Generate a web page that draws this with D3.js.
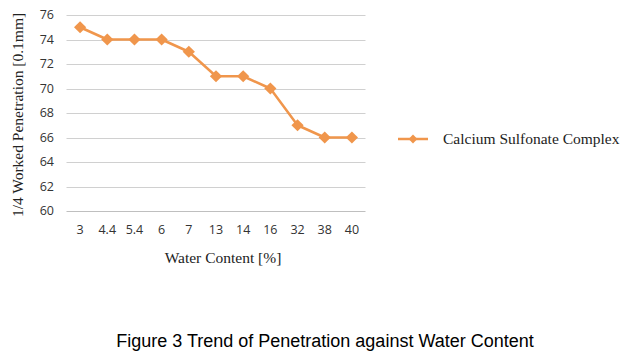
<!DOCTYPE html>
<html><head><meta charset="utf-8">
<script src="https://cdn.jsdelivr.net/npm/d3@7"></script>
<style>body{margin:0;background:#fff}svg{display:block}</style>
</head><body>
<svg id="c" width="638" height="358"></svg>
<script>
const categories = ["3","4.4","5.4","6","7","13","14","16","32","38","40"];
const values = [75,74,74,74,73,71,71,70,67,66,66];
const yTicks = [60,62,64,66,68,70,72,74,76];
const seriesName = "Calcium Sulfonate Complex";
const xTitle = "Water Content [%]";
const yTitle = "1/4 Worked Penetration [0.1mm]";
const caption = "Figure 3 Trend of Penetration against Water Content";

const svg = d3.select("#c");
const color = "#F0964C";
const x = d3.scaleBand().domain(categories).range([66.5, 365.5]);
const y = d3.scaleLinear().domain([60,76]).range([211, 15]);

// gridlines
svg.append("g").selectAll("line").data(yTicks).join("line")
  .attr("x1", 66.5).attr("x2", 365.5)
  .attr("y1", d => Math.round(y(d)) + 0.5).attr("y2", d => Math.round(y(d)) + 0.5)
  .attr("stroke", d => d === 60 ? "#bfbfbf" : "#d0d0d0").attr("stroke-width", 1);

// y labels
svg.append("g").selectAll("text").data(yTicks).join("text")
  .attr("x", 54).attr("y", d => y(d)).attr("dy", "0.35em")
  .attr("text-anchor", "end").attr("font-family", "Open Sans, Liberation Sans, sans-serif")
  .attr("font-size", 12.5).attr("fill", "#333").text(d => d);

// x labels
svg.append("g").selectAll("text").data(categories).join("text")
  .attr("x", d => x(d) + x.bandwidth()/2).attr("y", 234)
  .attr("text-anchor", "middle").attr("font-family", "Open Sans, Liberation Sans, sans-serif")
  .attr("font-size", 12.5).attr("fill", "#333").text(d => d);

// line
const line = d3.line().x((d,i) => x(categories[i]) + x.bandwidth()/2).y(d => y(d));
svg.append("path").datum(values).attr("d", line)
  .attr("fill", "none").attr("stroke", color).attr("stroke-width", 2.5).attr("stroke-linejoin", "round");

const diamond = d3.symbol().type(d3.symbolDiamond2 || d3.symbolDiamond).size(95);
svg.append("g").selectAll("path").data(values).join("path")
  .attr("transform", (d,i) => `translate(${x(categories[i]) + x.bandwidth()/2},${y(d)})`)
  .attr("d", diamond).attr("fill", color);

// axis titles
svg.append("text").attr("x", 223).attr("y", 263).attr("text-anchor", "middle")
  .attr("font-family", "Liberation Serif, serif").attr("font-size", 15.5).attr("fill", "#222").text(xTitle);
svg.append("text").attr("transform", "translate(23,115) rotate(-90)").attr("text-anchor", "middle")
  .attr("font-family", "Liberation Serif, serif").attr("font-size", 15.5).attr("fill", "#222").text(yTitle);

// legend
svg.append("line").attr("x1", 398).attr("x2", 428).attr("y1", 139).attr("y2", 139)
  .attr("stroke", color).attr("stroke-width", 2.5);
svg.append("path").attr("transform", "translate(413,139)").attr("d", d3.symbol().type(d3.symbolDiamond2 || d3.symbolDiamond).size(50)()).attr("fill", color);
svg.append("text").attr("x", 443).attr("y", 139).attr("dy", "0.35em")
  .attr("font-family", "Liberation Serif, serif").attr("font-size", 15.5).attr("fill", "#222").text(seriesName);

// caption
svg.append("text").attr("x", 325).attr("y", 347).attr("text-anchor", "middle")
  .attr("font-family", "Liberation Sans, Arial, sans-serif").attr("font-size", 18).attr("fill", "#000").text(caption);
</script>
</body></html>
